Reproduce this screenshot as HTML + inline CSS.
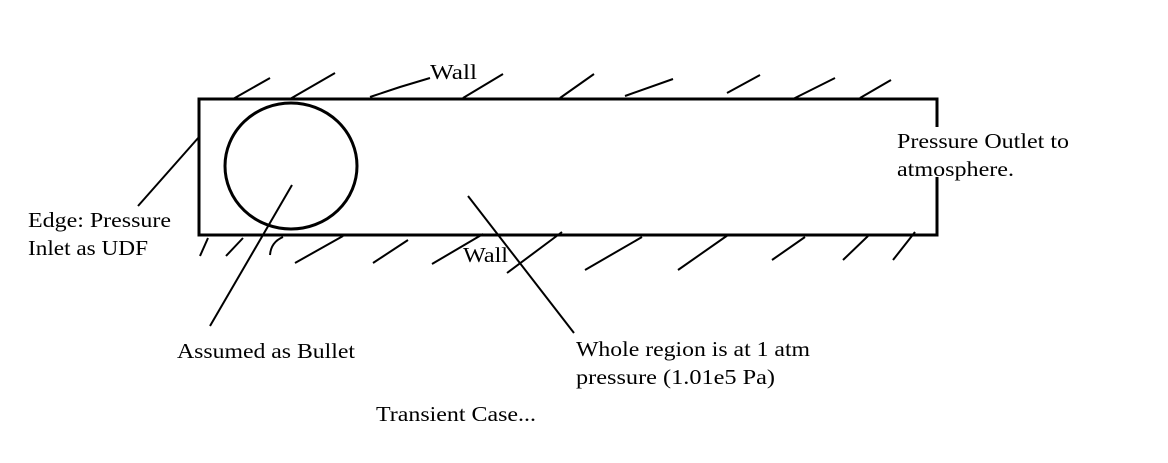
<!DOCTYPE html>
<html><head><style>
html,body{margin:0;padding:0;background:#fff;}
svg{display:block;}
text{font-family:"Liberation Serif",serif;font-size:21px;fill:#000;}
</style></head><body>
<svg width="1168" height="463" viewBox="0 0 1168 463" xmlns="http://www.w3.org/2000/svg">
<g stroke="#000" fill="none" stroke-width="3">
<path d="M937,127 L937,99 L199,99 L199,235 L937,235 L937,177"/>
<ellipse cx="291" cy="166" rx="66" ry="63"/>
</g>
<g stroke="#000" fill="none" stroke-width="2">
<line x1="138" y1="206" x2="199" y2="137"/>
<line x1="210" y1="326" x2="292" y2="185"/>
<line x1="468" y1="196" x2="574" y2="333"/>
<path d="M233,99 L270,78"/>
<path d="M290,99 L335,73"/>
<path d="M370,97 L400,87 L430,78"/>
<path d="M463,98 L503,74"/>
<path d="M560,98 L594,74"/>
<path d="M625,96 L673,79"/>
<path d="M727,93 L760,75"/>
<path d="M793,99 L835,78"/>
<path d="M860,98 L891,80"/>
<path d="M200,256 L208,238"/>
<path d="M226,256 L243,238"/>
<path d="M270,255 Q271,242 283,237"/>
<path d="M295,263 L343,236"/>
<path d="M373,263 L408,240"/>
<path d="M432,264 L483,234"/>
<path d="M507,273 L562,232"/>
<path d="M585,270 L642,237"/>
<path d="M678,270 L728,235"/>
<path d="M772,260 L805,237"/>
<path d="M843,260 L868,236"/>
<path d="M893,260 L915,232"/>
</g>
<text x="430" y="79" textLength="47" lengthAdjust="spacingAndGlyphs">Wall</text>
<text x="463" y="262" textLength="45" lengthAdjust="spacingAndGlyphs">Wall</text>
<text x="897" y="148" textLength="172" lengthAdjust="spacingAndGlyphs">Pressure Outlet to</text>
<text x="897" y="176" textLength="117" lengthAdjust="spacingAndGlyphs">atmosphere.</text>
<text x="28" y="227" textLength="143" lengthAdjust="spacingAndGlyphs">Edge: Pressure</text>
<text x="28" y="255" textLength="120" lengthAdjust="spacingAndGlyphs">Inlet as UDF</text>
<text x="177" y="358" textLength="178" lengthAdjust="spacingAndGlyphs">Assumed as Bullet</text>
<text x="576" y="356" textLength="234" lengthAdjust="spacingAndGlyphs">Whole region is at 1 atm</text>
<text x="576" y="384" textLength="199" lengthAdjust="spacingAndGlyphs">pressure (1.01e5 Pa)</text>
<text x="376" y="421" textLength="160" lengthAdjust="spacingAndGlyphs">Transient Case...</text>
</svg>
</body></html>
